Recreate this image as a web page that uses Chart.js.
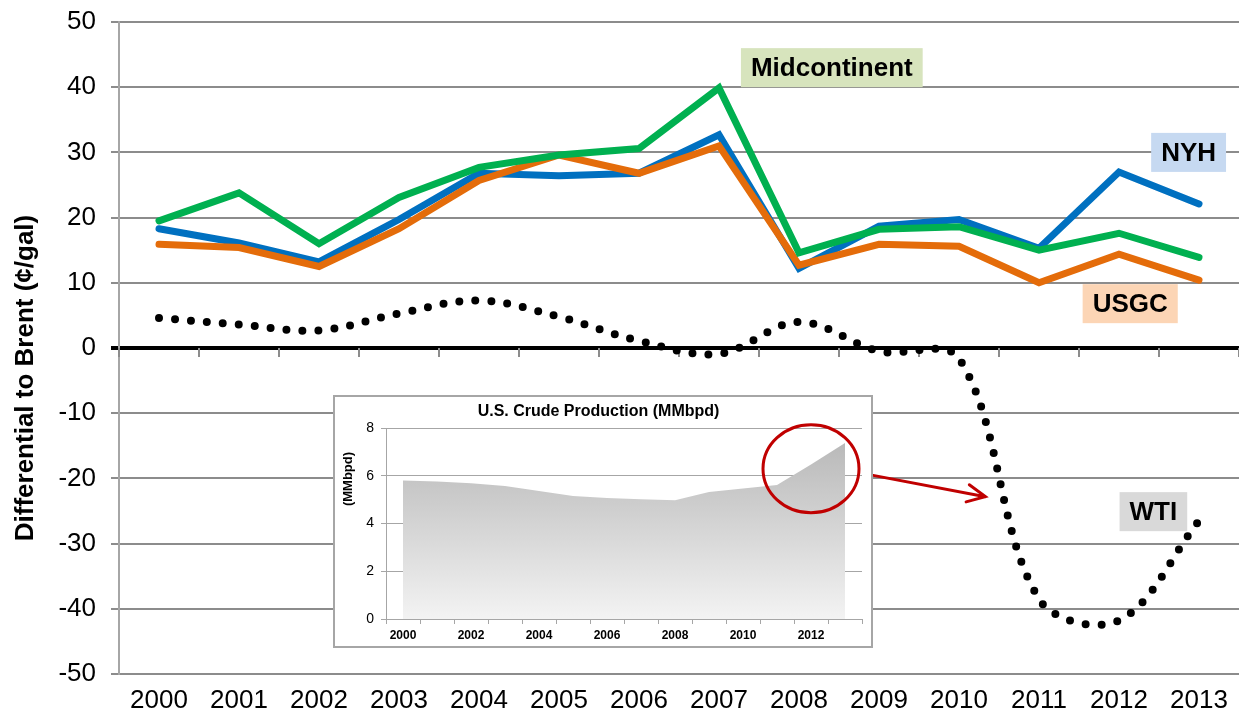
<!DOCTYPE html>
<html>
<head>
<meta charset="utf-8">
<script src="https://cdn.jsdelivr.net/npm/chart.js@4.4.1/dist/chart.umd.min.js"></script>
<style>
  html, body { margin: 0; padding: 0; background: #fff; }
  #wrap { position: relative; width: 1239px; height: 717px; }
  #inset { position: absolute; left: 333px; top: 395px; width: 540px; height: 253px;
           box-sizing: border-box; border: 2px solid #a6a6a6; background: #fff; }
</style>
</head>
<body>
<div id="wrap">
  <canvas id="chart" width="1239" height="717"></canvas>
  <div id="inset"><canvas id="prod" width="536" height="249"></canvas></div>
</div>
<script>
"use strict"

// main chart: differential to Brent, cents per gallon
const years = ['2000', '2001', '2002', '2003', '2004', '2005', '2006',
               '2007', '2008', '2009', '2010', '2011', '2012', '2013'];
const nyh    = [18.3, 16.1, 13.2, 19.7, 26.8, 26.4, 26.8, 32.7, 12.2, 18.7, 19.7, 15.3, 27.0, 22.1];
const usgc   = [15.9, 15.4, 12.5, 18.3, 25.7, 29.6, 26.8, 31.0, 12.7, 15.9, 15.6, 10.0, 14.4, 10.4];
const midcon = [19.5, 23.8, 16.0, 23.1, 27.7, 29.6, 30.6, 39.9, 14.6, 18.2, 18.6, 15.0, 17.6, 13.9];
const wti    = [4.6, 3.6, 2.7, 5.3, 7.3, 4.8, 1.1, -0.9, 4.0, -0.5, -1.6, -38.5, -41.8, -26.5];
const yMin = -50, yMax = 50, yStep = 10;

// inset: U.S. crude production, MMbpd
const prodYears = years;
const production = [5.81, 5.76, 5.69, 5.58, 5.37, 5.16, 5.07, 5.02, 4.98, 5.33, 5.47, 5.62, 6.48, 7.38];
const prodMax = 8, prodStep = 2;

const FONT = "'Liberation Sans', Arial, sans-serif";
Chart.defaults.font.family = FONT;
Chart.defaults.color = '#000';

// series name tags, placed in scale units
const tags = [
  { text: 'Midcontinent', x: 8.41, y: 43.0, bg: '#D7E4BD' },
  { text: 'NYH',          x: 12.87, y: 30.0, bg: '#C6D9F1' },
  { text: 'USGC',         x: 12.14, y: 6.8,  bg: '#FCD5B5' },
  { text: 'WTI',          x: 12.43, y: -25.1, bg: '#D9D9D9' }
];

function rotatedText(ctx, text, x, y, font) {
  ctx.save();
  ctx.translate(x, y);
  ctx.rotate(-Math.PI / 2);
  ctx.font = font;
  ctx.fillStyle = '#000';
  ctx.textAlign = 'center';
  ctx.textBaseline = 'middle';
  ctx.fillText(text, 0, 0);
  ctx.restore();
}

const mainExtras = {
  id: 'mainExtras',
  beforeDatasetsDraw(chart) {
    // small tick marks hanging under the zero line
    const {ctx, scales: {x, y}} = chart;
    const y0 = y.getPixelForValue(0);
    ctx.save();
    ctx.strokeStyle = '#8c8c8c';
    ctx.lineWidth = 2;
    for (let i = 0; i <= years.length; i++) {
      const px = Math.round(x.getPixelForValue(i - 0.5));
      ctx.beginPath();
      ctx.moveTo(px, y0);
      ctx.lineTo(px, y0 + 9);
      ctx.stroke();
    }
    ctx.restore();
  },
  afterDatasetsDraw(chart) {
    const {ctx, scales: {x, y}} = chart;
    ctx.save();
    ctx.font = 'bold 26px ' + FONT;
    ctx.textAlign = 'center';
    ctx.textBaseline = 'middle';
    tags.forEach(t => {
      const cx = x.getPixelForValue(t.x), cy = y.getPixelForValue(t.y);
      const w = ctx.measureText(t.text).width + 20, h = 39;
      ctx.fillStyle = t.bg;
      ctx.fillRect(cx - w / 2, cy - h / 2, w, h);
      ctx.fillStyle = '#000';
      ctx.fillText(t.text, cx, cy + 1);
    });
    // red arrow pointing from the inset to the WTI collapse
    const x1 = x.getPixelForValue(8.91), y1 = y.getPixelForValue(-19.5);
    const x2 = x.getPixelForValue(10.33), y2 = y.getPixelForValue(-22.8);
    const ang = Math.atan2(y2 - y1, x2 - x1);
    ctx.strokeStyle = '#C00000';
    ctx.lineWidth = 3;
    ctx.lineCap = 'round';
    ctx.beginPath();
    ctx.moveTo(x1, y1);
    ctx.lineTo(x2, y2);
    ctx.moveTo(x2 - 20 * Math.cos(ang - 0.45), y2 - 20 * Math.sin(ang - 0.45));
    ctx.lineTo(x2, y2);
    ctx.lineTo(x2 - 20 * Math.cos(ang + 0.45), y2 - 20 * Math.sin(ang + 0.45));
    ctx.stroke();
    ctx.restore();
    rotatedText(ctx, 'Differential to Brent (\u00A2/gal)', 26, 378, 'bold 26px ' + FONT);
  }
};

new Chart(document.getElementById('chart'), {
  type: 'line',
  data: {
    labels: years,
    datasets: [
      { label: 'Midcontinent', data: midcon, borderColor: '#00B050', borderWidth: 7,
        borderCapStyle: 'round', pointRadius: 0, tension: 0 },
      { label: 'USGC', data: usgc, borderColor: '#E46C0A', borderWidth: 7,
        borderCapStyle: 'round', pointRadius: 0, tension: 0 },
      { label: 'NYH', data: nyh, borderColor: '#0070C0', borderWidth: 7,
        borderCapStyle: 'round', pointRadius: 0, tension: 0 },
      { label: 'WTI', data: wti, borderColor: '#000', borderWidth: 8,
        borderDash: [0, 16], borderCapStyle: 'round', pointRadius: 0, tension: 0.35 }
    ]
  },
  options: {
    responsive: false,
    animation: false,
    devicePixelRatio: 1,
    layout: { padding: { top: 22, right: 0, left: 0, bottom: 0 } },
    plugins: { legend: { display: false }, tooltip: { enabled: false } },
    scales: {
      x: {
        offset: true,
        afterFit: s => { s.height = 43; },
        border: { display: false },
        grid: { display: false, drawTicks: false },
        ticks: { font: { size: 26 }, padding: 11, maxRotation: 0, autoSkip: false }
      },
      y: {
        min: yMin, max: yMax,
        afterFit: s => { s.width = 119; s.paddingTop = 12; s.paddingBottom = 12; },
        border: { color: '#a6a6a6', width: 2 },
        grid: {
          color: c => c.tick && c.tick.value === 0 ? '#000' : '#8c8c8c',
          lineWidth: c => c.tick && c.tick.value === 0 ? 4 : 2,
          tickColor: c => c.tick && c.tick.value === 0 ? '#000' : '#8c8c8c',
          tickLength: 8
        },
        ticks: { stepSize: yStep, font: { size: 26 }, padding: 15 }
      }
    }
  },
  plugins: [mainExtras]
});

const insetExtras = {
  id: 'insetExtras',
  afterDatasetsDraw(chart) {
    const {ctx, scales: {x, y}} = chart;
    ctx.save();
    ctx.strokeStyle = '#C00000';
    ctx.lineWidth = 3;
    ctx.beginPath();
    ctx.ellipse(x.getPixelForValue(12), y.getPixelForValue(6.3), 48, 44, 0, 0, Math.PI * 2);
    ctx.stroke();
    ctx.restore();
    rotatedText(ctx, '(MMbpd)', 13, 82, 'bold 13px ' + FONT);
  }
};

new Chart(document.getElementById('prod'), {
  type: 'line',
  data: {
    labels: prodYears,
    datasets: [{
      data: production,
      fill: 'origin',
      borderWidth: 0,
      pointRadius: 0,
      tension: 0,
      backgroundColor: c => {
        const a = c.chart.chartArea;
        if (!a) return '#cccccc';
        const g = c.chart.ctx.createLinearGradient(0, a.top, 0, a.bottom);
        g.addColorStop(0, '#b4b4b4');
        g.addColorStop(1, '#f3f3f3');
        return g;
      }
    }]
  },
  options: {
    responsive: false,
    animation: false,
    devicePixelRatio: 1,
    layout: { padding: { top: 0, right: 9, left: 0, bottom: 0 } },
    plugins: {
      legend: { display: false },
      tooltip: { enabled: false },
      title: {
        display: true,
        text: 'U.S. Crude Production (MMbpd)',
        font: { size: 16, weight: 'bold' },
        padding: { top: 5, bottom: 7 }
      }
    },
    scales: {
      x: {
        offset: true,
        afterFit: s => { s.height = 27; },
        border: { color: '#a6a6a6', width: 1 },
        grid: { offset: true, drawOnChartArea: false, tickLength: 5, color: '#a6a6a6' },
        ticks: {
          autoSkip: false, maxRotation: 0, padding: 4,
          font: { size: 12, weight: 'bold' },
          callback: (v, i) => i % 2 === 0 ? prodYears[i] : ''
        }
      },
      y: {
        min: 0, max: prodMax,
        afterFit: s => { s.width = 51; },
        border: { color: '#a6a6a6', width: 1 },
        grid: { color: '#a6a6a6', lineWidth: 1, tickLength: 5 },
        ticks: { stepSize: prodStep, font: { size: 14 }, padding: 7 }
      }
    }
  },
  plugins: [insetExtras]
});
</script>
</body>
</html>
